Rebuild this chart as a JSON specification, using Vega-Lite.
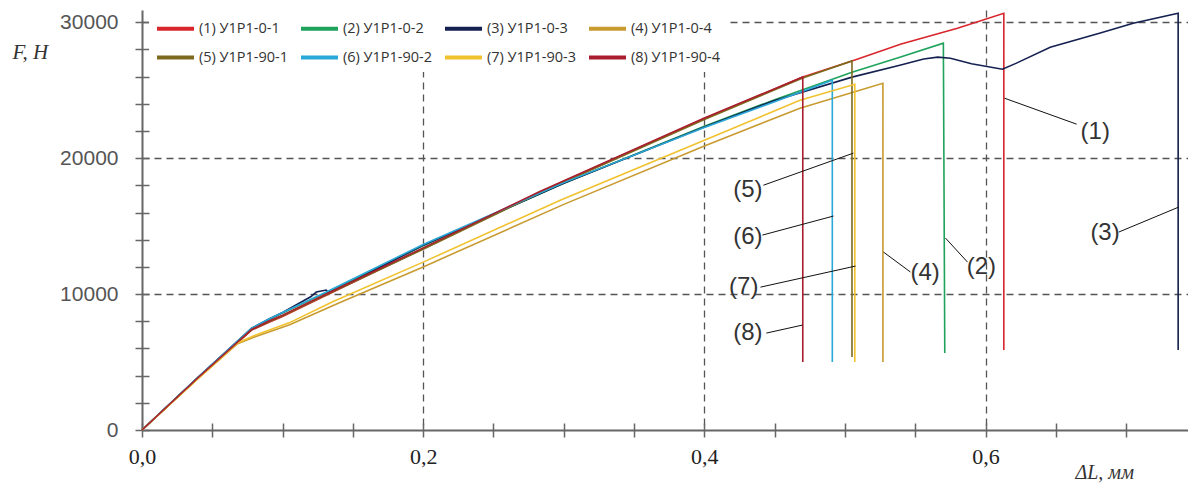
{
  "$schema": "https://vega.github.io/schema/vega-lite/v6.json",
  "width": 1046,
  "height": 420,
  "autosize": {"type": "none"},
  "padding": {"left": 142, "top": 10, "right": 0, "bottom": 59},
  "background": "white",
  "config": {"view": {"stroke": null}},
  "encoding": {
    "x": {
      "field": "x", "type": "quantitative",
      "scale": {"domain": [0, 0.744], "nice": false, "zero": false},
      "axis": {
        "title": "ΔL, мм", "titleFont": "Liberation Serif", "titleFontStyle": "italic", "titleFontWeight": "normal",
        "titleFontSize": 20, "titleColor": "#333", "titleX": 933, "titleY": 49, "titleAlign": "left", "titleBaseline": "middle", "titleAnchor": null,
        "values": [0, 0.05, 0.1, 0.15, 0.2, 0.25, 0.3, 0.35, 0.4, 0.45, 0.5, 0.55, 0.6, 0.65, 0.7],
        "offset": -7, "tickSize": 14, "tickColor": "#666", "tickWidth": 1.5, "domain": false,
        "labelExpr": "abs(datum.value*5-round(datum.value*5))<1e-6 ? replace(format(datum.value,'.1f'),'.',',') : ''",
        "labelFont": "Liberation Serif", "labelFontSize": 22, "labelColor": "#222", "labelPadding": 19, "labelBaseline": "middle",
        "labelFlush": false, "labelOverlap": false,
        "grid": true,
        "gridColor": {"condition": {"test": "datum.value==0", "value": "#666"}, "value": "#555"},
        "gridWidth": {"condition": {"test": "datum.value==0", "value": 2}, "value": 1.3},
        "gridDash": {"condition": {"test": "datum.value==0", "value": []}, "value": [7, 5]},
        "gridOpacity": {"condition": {"test": "datum.value==0 || abs(datum.value*5-round(datum.value*5))<1e-6", "value": 1}, "value": 0}
      }
    },
    "y": {
      "field": "y", "type": "quantitative",
      "scale": {"domain": [0, 30900], "nice": false, "zero": false},
      "axis": {
        "title": "F, H", "titleFont": "Liberation Serif", "titleFontStyle": "italic", "titleFontWeight": "normal",
        "titleFontSize": 21, "titleColor": "#333", "titleAngle": 0, "titleX": -137, "titleY": 42, "titleAlign": "left", "titleBaseline": "middle", "titleAnchor": null,
        "values": [0, 2000, 4000, 6000, 8000, 10000, 12000, 14000, 16000, 18000, 20000, 22000, 24000, 26000, 28000, 30000],
        "offset": -7, "tickSize": 14, "tickColor": "#666", "tickWidth": 1.5, "domain": false,
        "labelExpr": "datum.value % 10000 == 0 ? format(datum.value,'d') : ''",
        "labelFont": "Liberation Sans", "labelFontSize": 21, "labelColor": "#555", "labelPadding": 17,
        "labelOverlap": false, "labelFlush": false,
        "grid": true,
        "gridColor": {"condition": {"test": "datum.value==0", "value": "#666"}, "value": "#555"},
        "gridWidth": {"condition": {"test": "datum.value==0", "value": 2}, "value": 1.3},
        "gridDash": {"condition": {"test": "datum.value==0", "value": []}, "value": [7, 5]},
        "gridOpacity": {"condition": {"test": "datum.value % 10000 == 0", "value": 1}, "value": 0}
      }
    }
  },
  "layer": [
    {
      "data": {"values": [
        {"s":"(1) У1Р1-0-1","i":0,"x":0,"y":0},
        {"s":"(1) У1Р1-0-1","i":1,"x":0.04,"y":3850},
        {"s":"(1) У1Р1-0-1","i":2,"x":0.078,"y":7350},
        {"s":"(1) У1Р1-0-1","i":3,"x":0.09,"y":7900},
        {"s":"(1) У1Р1-0-1","i":4,"x":0.1,"y":8350},
        {"s":"(1) У1Р1-0-1","i":5,"x":0.13,"y":9850},
        {"s":"(1) У1Р1-0-1","i":6,"x":0.2,"y":13350},
        {"s":"(1) У1Р1-0-1","i":7,"x":0.283,"y":17500},
        {"s":"(1) У1Р1-0-1","i":8,"x":0.4,"y":22900},
        {"s":"(1) У1Р1-0-1","i":9,"x":0.47,"y":25970},
        {"s":"(1) У1Р1-0-1","i":10,"x":0.505,"y":27150},
        {"s":"(1) У1Р1-0-1","i":11,"x":0.54,"y":28400},
        {"s":"(1) У1Р1-0-1","i":12,"x":0.58,"y":29550},
        {"s":"(1) У1Р1-0-1","i":13,"x":0.613,"y":30660},
        {"s":"(1) У1Р1-0-1","i":14,"x":0.613,"y":5880},

        {"s":"(2) У1Р1-0-2","i":0,"x":0,"y":0},
        {"s":"(2) У1Р1-0-2","i":1,"x":0.04,"y":3880},
        {"s":"(2) У1Р1-0-2","i":2,"x":0.078,"y":7450},
        {"s":"(2) У1Р1-0-2","i":3,"x":0.09,"y":8100},
        {"s":"(2) У1Р1-0-2","i":4,"x":0.1,"y":8600},
        {"s":"(2) У1Р1-0-2","i":5,"x":0.13,"y":10050},
        {"s":"(2) У1Р1-0-2","i":6,"x":0.2,"y":13550},
        {"s":"(2) У1Р1-0-2","i":7,"x":0.3,"y":18150},
        {"s":"(2) У1Р1-0-2","i":8,"x":0.4,"y":22350},
        {"s":"(2) У1Р1-0-2","i":9,"x":0.45,"y":24300},
        {"s":"(2) У1Р1-0-2","i":10,"x":0.491,"y":25800},
        {"s":"(2) У1Р1-0-2","i":11,"x":0.505,"y":26320},
        {"s":"(2) У1Р1-0-2","i":12,"x":0.539,"y":27430},
        {"s":"(2) У1Р1-0-2","i":13,"x":0.57,"y":28460},
        {"s":"(2) У1Р1-0-2","i":14,"x":0.571,"y":5660},

        {"s":"(3) У1Р1-0-3","i":0,"x":0,"y":0},
        {"s":"(3) У1Р1-0-3","i":1,"x":0.04,"y":3900},
        {"s":"(3) У1Р1-0-3","i":2,"x":0.078,"y":7500},
        {"s":"(3) У1Р1-0-3","i":3,"x":0.09,"y":8150},
        {"s":"(3) У1Р1-0-3","i":4,"x":0.1,"y":8650},
        {"s":"(3) У1Р1-0-3","i":5,"x":0.12,"y":9800},
        {"s":"(3) У1Р1-0-3","i":6,"x":0.124,"y":10150},
        {"s":"(3) У1Р1-0-3","i":7,"x":0.131,"y":10300},
        {"s":"(3) У1Р1-0-3","i":8,"x":0.133,"y":10100},
        {"s":"(3) У1Р1-0-3","i":9,"x":0.15,"y":10950},
        {"s":"(3) У1Р1-0-3","i":10,"x":0.2,"y":13600},
        {"s":"(3) У1Р1-0-3","i":11,"x":0.3,"y":18150},
        {"s":"(3) У1Р1-0-3","i":12,"x":0.4,"y":22300},
        {"s":"(3) У1Р1-0-3","i":13,"x":0.45,"y":24250},
        {"s":"(3) У1Р1-0-3","i":14,"x":0.505,"y":25960},
        {"s":"(3) У1Р1-0-3","i":15,"x":0.539,"y":26840},
        {"s":"(3) У1Р1-0-3","i":16,"x":0.556,"y":27300},
        {"s":"(3) У1Р1-0-3","i":17,"x":0.566,"y":27430},
        {"s":"(3) У1Р1-0-3","i":18,"x":0.575,"y":27350},
        {"s":"(3) У1Р1-0-3","i":19,"x":0.59,"y":26950},
        {"s":"(3) У1Р1-0-3","i":20,"x":0.612,"y":26540},
        {"s":"(3) У1Р1-0-3","i":21,"x":0.622,"y":26990},
        {"s":"(3) У1Р1-0-3","i":22,"x":0.646,"y":28160},
        {"s":"(3) У1Р1-0-3","i":23,"x":0.681,"y":29190},
        {"s":"(3) У1Р1-0-3","i":24,"x":0.705,"y":29930},
        {"s":"(3) У1Р1-0-3","i":25,"x":0.737,"y":30660},
        {"s":"(3) У1Р1-0-3","i":26,"x":0.737,"y":5880},

        {"s":"(4) У1Р1-0-4","i":0,"x":0,"y":0},
        {"s":"(4) У1Р1-0-4","i":1,"x":0.04,"y":3800},
        {"s":"(4) У1Р1-0-4","i":2,"x":0.068,"y":6350},
        {"s":"(4) У1Р1-0-4","i":3,"x":0.08,"y":6850},
        {"s":"(4) У1Р1-0-4","i":4,"x":0.105,"y":7750},
        {"s":"(4) У1Р1-0-4","i":5,"x":0.14,"y":9350},
        {"s":"(4) У1Р1-0-4","i":6,"x":0.2,"y":12000},
        {"s":"(4) У1Р1-0-4","i":7,"x":0.3,"y":16600},
        {"s":"(4) У1Р1-0-4","i":8,"x":0.4,"y":20900},
        {"s":"(4) У1Р1-0-4","i":9,"x":0.468,"y":23680},
        {"s":"(4) У1Р1-0-4","i":10,"x":0.527,"y":25510},
        {"s":"(4) У1Р1-0-4","i":11,"x":0.527,"y":5000},

        {"s":"(5) У1Р1-90-1","i":0,"x":0,"y":0},
        {"s":"(5) У1Р1-90-1","i":1,"x":0.04,"y":3850},
        {"s":"(5) У1Р1-90-1","i":2,"x":0.078,"y":7380},
        {"s":"(5) У1Р1-90-1","i":3,"x":0.09,"y":7950},
        {"s":"(5) У1Р1-90-1","i":4,"x":0.1,"y":8400},
        {"s":"(5) У1Р1-90-1","i":5,"x":0.13,"y":9900},
        {"s":"(5) У1Р1-90-1","i":6,"x":0.2,"y":13300},
        {"s":"(5) У1Р1-90-1","i":7,"x":0.283,"y":17450},
        {"s":"(5) У1Р1-90-1","i":8,"x":0.4,"y":22850},
        {"s":"(5) У1Р1-90-1","i":9,"x":0.47,"y":25900},
        {"s":"(5) У1Р1-90-1","i":10,"x":0.505,"y":27150},
        {"s":"(5) У1Р1-90-1","i":11,"x":0.505,"y":5370},

        {"s":"(6) У1Р1-90-2","i":0,"x":0,"y":0},
        {"s":"(6) У1Р1-90-2","i":1,"x":0.04,"y":3900},
        {"s":"(6) У1Р1-90-2","i":2,"x":0.078,"y":7500},
        {"s":"(6) У1Р1-90-2","i":3,"x":0.09,"y":8150},
        {"s":"(6) У1Р1-90-2","i":4,"x":0.1,"y":8650},
        {"s":"(6) У1Р1-90-2","i":5,"x":0.13,"y":10100},
        {"s":"(6) У1Р1-90-2","i":6,"x":0.2,"y":13650},
        {"s":"(6) У1Р1-90-2","i":7,"x":0.3,"y":18200},
        {"s":"(6) У1Р1-90-2","i":8,"x":0.4,"y":22250},
        {"s":"(6) У1Р1-90-2","i":9,"x":0.45,"y":24150},
        {"s":"(6) У1Р1-90-2","i":10,"x":0.491,"y":25740},
        {"s":"(6) У1Р1-90-2","i":11,"x":0.491,"y":5000},

        {"s":"(7) У1Р1-90-3","i":0,"x":0,"y":0},
        {"s":"(7) У1Р1-90-3","i":1,"x":0.04,"y":3800},
        {"s":"(7) У1Р1-90-3","i":2,"x":0.068,"y":6400},
        {"s":"(7) У1Р1-90-3","i":3,"x":0.08,"y":6950},
        {"s":"(7) У1Р1-90-3","i":4,"x":0.105,"y":7900},
        {"s":"(7) У1Р1-90-3","i":5,"x":0.136,"y":9450},
        {"s":"(7) У1Р1-90-3","i":6,"x":0.2,"y":12350},
        {"s":"(7) У1Р1-90-3","i":7,"x":0.2975,"y":16910},
        {"s":"(7) У1Р1-90-3","i":8,"x":0.4,"y":21320},
        {"s":"(7) У1Р1-90-3","i":9,"x":0.468,"y":24260},
        {"s":"(7) У1Р1-90-3","i":10,"x":0.507,"y":25440},
        {"s":"(7) У1Р1-90-3","i":11,"x":0.507,"y":5000},

        {"s":"(8) У1Р1-90-4","i":0,"x":0,"y":0},
        {"s":"(8) У1Р1-90-4","i":1,"x":0.04,"y":3860},
        {"s":"(8) У1Р1-90-4","i":2,"x":0.078,"y":7400},
        {"s":"(8) У1Р1-90-4","i":3,"x":0.09,"y":8000},
        {"s":"(8) У1Р1-90-4","i":4,"x":0.1,"y":8450},
        {"s":"(8) У1Р1-90-4","i":5,"x":0.13,"y":9950},
        {"s":"(8) У1Р1-90-4","i":6,"x":0.2,"y":13400},
        {"s":"(8) У1Р1-90-4","i":7,"x":0.283,"y":17550},
        {"s":"(8) У1Р1-90-4","i":8,"x":0.4,"y":22950},
        {"s":"(8) У1Р1-90-4","i":9,"x":0.47,"y":25970},
        {"s":"(8) У1Р1-90-4","i":10,"x":0.47,"y":5000}
      ]},
      "mark": {"type": "line", "strokeWidth": 1.6},
      "encoding": {
        "color": {
          "field": "s", "type": "nominal",
          "scale": {
            "domain": ["(1) У1Р1-0-1", "(2) У1Р1-0-2", "(3) У1Р1-0-3", "(4) У1Р1-0-4", "(5) У1Р1-90-1", "(6) У1Р1-90-2", "(7) У1Р1-90-3", "(8) У1Р1-90-4"],
            "range": ["#d8262c", "#1fa35c", "#142050", "#c89b30", "#7d6a1e", "#2aa8d8", "#f0c22e", "#a81e2e"]
          },
          "legend": {
            "title": null, "orient": "none", "legendX": 7, "legendY": -8, "columns": 4, "direction": "horizontal",
            "symbolType": "stroke", "symbolSize": 1369, "symbolStrokeWidth": 4,
            "labelFont": "Open Sans", "labelFontSize": 14.5, "labelColor": "#333", "labelOffset": 3, "labelLimit": 200,
            "columnPadding": 4, "rowPadding": 0, "fillColor": "white", "padding": 6
          }
        },
        "order": {"field": "i", "type": "quantitative"}
      }
    },
    {
      "data": {"values": [
        {"x": 0.6135, "y": 24410, "x2": 0.6648, "y2": 22500},
        {"x": 0.5715, "y": 14120, "x2": 0.5872, "y2": 12350},
        {"x": 0.7374, "y": 16400, "x2": 0.6947, "y2": 14560},
        {"x": 0.5274, "y": 13090, "x2": 0.5466, "y2": 11620},
        {"x": 0.506, "y": 20370, "x2": 0.442, "y2": 18010},
        {"x": 0.4918, "y": 15740, "x2": 0.4413, "y2": 14340},
        {"x": 0.5075, "y": 12060, "x2": 0.4399, "y2": 10510},
        {"x": 0.4698, "y": 7720, "x2": 0.4441, "y2": 7130}
      ]},
      "mark": {"type": "rule", "color": "#111", "strokeWidth": 1},
      "encoding": {
        "x2": {"field": "x2"},
        "y2": {"field": "y2"}
      }
    },
    {
      "data": {"values": [
        {"x": 0.678, "y": 21910, "t": "(1)"},
        {"x": 0.597, "y": 11990, "t": "(2)"},
        {"x": 0.685, "y": 14490, "t": "(3)"},
        {"x": 0.557, "y": 11540, "t": "(4)"},
        {"x": 0.431, "y": 17650, "t": "(5)"},
        {"x": 0.431, "y": 14190, "t": "(6)"},
        {"x": 0.428, "y": 10510, "t": "(7)"},
        {"x": 0.431, "y": 7130, "t": "(8)"}
      ]},
      "mark": {"type": "text", "font": "Liberation Sans", "fontSize": 24, "color": "#333", "align": "center", "baseline": "middle"},
      "encoding": {
        "text": {"field": "t"}
      }
    }
  ]
}
